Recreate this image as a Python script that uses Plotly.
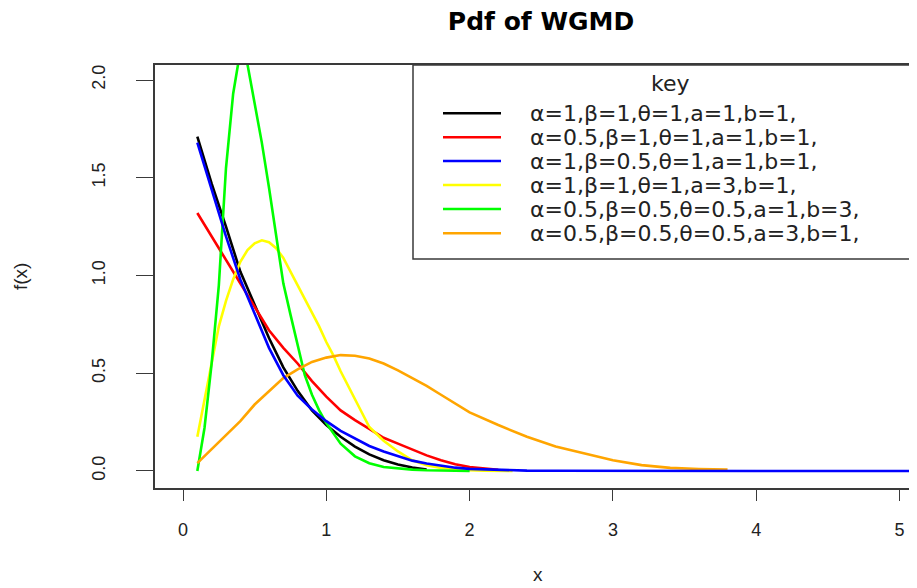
import plotly.graph_objects as go

# ---------------- data ----------------
labels = [
    "α=1,β=1,θ=1,a=1,b=1,",
    "α=0.5,β=1,θ=1,a=1,b=1,",
    "α=1,β=0.5,θ=1,a=1,b=1,",
    "α=1,β=1,θ=1,a=3,b=1,",
    "α=0.5,β=0.5,θ=0.5,a=1,b=3,",
    "α=0.5,β=0.5,θ=0.5,a=3,b=1,",
]
colors = ["#000000", "#FF0000", "#0000FF", "#FFFF00", "#00FF00", "#FFA500"]

black_x = [0.1, 0.2, 0.3, 0.4, 0.5, 0.6, 0.7, 0.8, 0.9, 1.0, 1.1, 1.2, 1.3, 1.4, 1.5, 1.6, 1.7]
black_y = [1.71, 1.47, 1.25, 1.02, 0.85, 0.68, 0.53, 0.41, 0.31, 0.235, 0.175, 0.125, 0.085, 0.055, 0.033, 0.018, 0.008]

red_x = [0.1, 0.2, 0.3, 0.4, 0.5, 0.6, 0.7, 0.8, 0.9, 1.0, 1.1, 1.2, 1.3, 1.4, 1.5, 1.6, 1.7, 1.8, 1.9, 2.0, 2.1, 2.2]
red_y = [1.32, 1.20, 1.08, 0.96, 0.84, 0.72, 0.63, 0.55, 0.46, 0.38, 0.31, 0.26, 0.215, 0.17, 0.14, 0.11, 0.08, 0.055, 0.035, 0.02, 0.012, 0.006]

blue_x = [0.1, 0.2, 0.3, 0.4, 0.5, 0.6, 0.7, 0.8, 0.9, 1.0, 1.1, 1.2, 1.3, 1.4, 1.5, 1.6, 1.7, 1.8, 1.9, 2.0,
          2.2, 2.4, 2.6, 3.0, 4.0, 5.2]
blue_y = [1.68, 1.44, 1.20, 0.98, 0.80, 0.63, 0.49, 0.385, 0.315, 0.255, 0.205, 0.165, 0.128, 0.10, 0.075, 0.053,
          0.038, 0.026, 0.017, 0.011, 0.005, 0.002, 0.001, 0.0, 0.0, 0.0]

yellow_x = [0.1, 0.15, 0.2, 0.25, 0.3, 0.35, 0.4, 0.45, 0.5, 0.55, 0.6, 0.65, 0.7, 0.75, 0.8, 0.85, 0.9, 0.95,
            1.0, 1.05, 1.1, 1.15, 1.2, 1.3, 1.4, 1.5, 1.6, 1.7, 1.8, 1.9, 2.0, 2.1, 2.2, 2.3]
yellow_y = [0.175, 0.37, 0.56, 0.74, 0.87, 0.98, 1.07, 1.13, 1.165, 1.18, 1.17, 1.14, 1.09, 1.02, 0.95, 0.88, 0.81,
            0.74, 0.66, 0.59, 0.51, 0.44, 0.37, 0.225, 0.155, 0.10, 0.055, 0.03, 0.015, 0.008, 0.004, 0.002, 0.001, 0.0]

green_x = [0.1, 0.15, 0.2, 0.25, 0.3, 0.35, 0.4, 0.45, 0.5, 0.55, 0.6, 0.65, 0.7, 0.75, 0.8, 0.85, 0.9, 0.95, 1.0,
           1.1, 1.2, 1.3, 1.4, 1.5, 1.6, 1.7, 1.8, 1.9, 2.0]
green_y = [0.0, 0.22, 0.55, 0.95, 1.55, 1.93, 2.15, 2.08, 1.88, 1.68, 1.45, 1.20, 0.96, 0.80, 0.65, 0.49, 0.39, 0.31,
           0.245, 0.14, 0.075, 0.04, 0.02, 0.012, 0.007, 0.004, 0.002, 0.001, 0.0]

orange_x = [0.1, 0.2, 0.3, 0.4, 0.5, 0.6, 0.7, 0.8, 0.9, 1.0, 1.1, 1.2, 1.3, 1.4, 1.5, 1.6, 1.7, 1.8, 1.9, 2.0,
            2.2, 2.4, 2.6, 2.8, 3.0, 3.2, 3.4, 3.6, 3.8]
orange_y = [0.04, 0.11, 0.18, 0.255, 0.34, 0.41, 0.475, 0.52, 0.558, 0.58, 0.593, 0.59, 0.575, 0.55, 0.515, 0.475,
            0.435, 0.39, 0.345, 0.30, 0.235, 0.175, 0.125, 0.09, 0.055, 0.03, 0.016, 0.01, 0.007]

x_ticks = [0, 1, 2, 3, 4, 5]
y_ticks = [0.0, 0.5, 1.0, 1.5, 2.0]
y_tick_text = ["0.0", "0.5", "1.0", "1.5", "2.0"]

series = [
    (black_x, black_y, 0),
    (red_x, red_y, 1),
    (yellow_x, yellow_y, 3),
    (green_x, green_y, 4),
    (orange_x, orange_y, 5),
    (blue_x, blue_y, 2),
]

# ---------------- layout geometry (page pixels; page body has an 8px margin) ----------------
OFF = 8
W, H = 917 - OFF, 588 - OFF
PL, PR, PT, PB = 155, 917, 65, 488   # plot area edges in page pixels


def px_x(p):
    return (p - PL) / (PR - PL)


def px_y(p):
    return (PB - p) / (PB - PT)


fig = go.Figure()
for xs, ys, k in series:
    fig.add_trace(go.Scatter(x=xs, y=ys, mode="lines", name=labels[k],
                             line=dict(color=colors[k], width=2.6), showlegend=False))

axis_col = "#3a3a3a"
fig.update_layout(
    width=W, height=H,
    margin=dict(l=PL - OFF, r=0, t=PT - OFF, b=H - (PB - OFF)),
    paper_bgcolor="white", plot_bgcolor="white",
    title=dict(text="Pdf of WGMD", x=(541 - OFF) / W, xref="container", xanchor="center",
               y=1.0, yref="container", yanchor="top", pad=dict(t=4, b=0, l=0, r=0),
               font=dict(family="DejaVu Sans", size=25, color="black", weight="bold")),
    xaxis=dict(range=[-0.1954, 5.122], tickvals=x_ticks, ticks="outside", ticklen=11,
               tickwidth=1.3, tickcolor=axis_col, showline=True, linecolor=axis_col, linewidth=1.5,
               mirror=True, showgrid=False, zeroline=False, ticklabelstandoff=14,
               tickfont=dict(family="Liberation Sans", size=18, color="#222")),
    yaxis=dict(range=[-0.087, 2.077], tickvals=y_ticks, ticktext=y_tick_text, ticks="outside",
               ticklen=17, tickwidth=1.3, tickcolor=axis_col, showline=True, linecolor=axis_col,
               linewidth=1.5, showgrid=False, zeroline=False, tickangle=-90, ticklabelstandoff=24,
               tickfont=dict(family="Liberation Sans", size=18, color="#222")),
)

# axis titles
fig.add_annotation(text="x", xref="paper", yref="paper", x=px_x(538), y=px_y(574),
                   showarrow=False, font=dict(family="Liberation Sans", size=19, color="#222"),
                   xanchor="center", yanchor="middle")
fig.add_annotation(text="f(x)", xref="paper", yref="paper", x=px_x(20), y=px_y(277),
                   showarrow=False, textangle=-90,
                   font=dict(family="Liberation Sans", size=19, color="#222"),
                   xanchor="center", yanchor="middle")

# legend box ("key")
fig.add_shape(type="rect", xref="paper", yref="paper", x0=px_x(413), x1=px_x(915),
              y0=px_y(259), y1=px_y(65), line=dict(color=axis_col, width=1.5), fillcolor="white",
              layer="above")
fig.add_annotation(text="key", xref="paper", yref="paper", x=px_x(670), y=px_y(84),
                   showarrow=False, font=dict(family="DejaVu Sans", size=22, color="#222"),
                   xanchor="center", yanchor="middle")
row_y = [113.3, 137.3, 161.0, 185.0, 209.0, 233.3]
for i, lab in enumerate(labels):
    fig.add_shape(type="line", xref="paper", yref="paper", x0=px_x(443), x1=px_x(501),
                  y0=px_y(row_y[i]), y1=px_y(row_y[i]), line=dict(color=colors[i], width=2.6),
                  layer="above")
    fig.add_annotation(text=lab, xref="paper", yref="paper", x=px_x(528), y=px_y(row_y[i]),
                       showarrow=False, font=dict(family="DejaVu Sans", size=22, color="#222"),
                       xanchor="left", yanchor="middle")

fig.write_html("out.html")
